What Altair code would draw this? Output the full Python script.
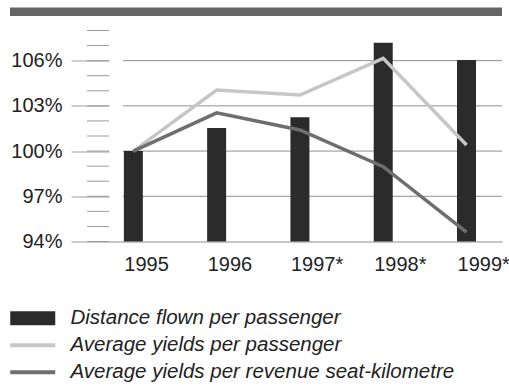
import json
import altair as alt
import pandas as pd

# ---- data ----
years = ["1995", "1996", "1997*", "1998*", "1999*"]
year_index = [0, 1, 2, 3, 4]
distance_flown = [100.0, 101.53, 102.24, 107.18, 106.04]
yield_per_pax = [100.0, 104.05, 103.72, 106.15, 100.4]
yield_per_rsk = [100.0, 102.54, 101.4, 98.96, 94.62]

series_names = [
    "Distance flown per passenger",
    "Average yields per passenger",
    "Average yields per revenue seat-kilometre",
]
series_colors = ["#2b2b2b", "#c6c6c6", "#6e6e6e"]
# legend swatch shapes: a wide block for the bars, thin strokes for the lines
series_shapes = [
    "M-2.25,-0.7H2.25V0.7H-2.25Z",
    "M-2.25,-0.2H2.25V0.2H-2.25Z",
    "M-2.25,-0.2H2.25V0.2H-2.25Z",
]
major_ticks = [94, 97, 100, 103, 106]
minor_ticks = [94, 95, 96, 97, 98, 99, 100, 101, 102, 103, 104, 105, 106, 107, 108]
grid_values = [97, 100, 103, 106]

# ---- tables ----
bars_df = pd.DataFrame({"idx": year_index, "year": years, "value": distance_flown,
                        "series": series_names[0]})
pax_df = pd.DataFrame({"idx": year_index, "year": years, "value": yield_per_pax,
                       "series": series_names[1]})
rsk_df = pd.DataFrame({"idx": year_index, "year": years, "value": yield_per_rsk,
                       "series": series_names[2]})
all_df = pd.concat([bars_df, pax_df, rsk_df])
grid_df = pd.DataFrame({"v": grid_values})
minor_df = pd.DataFrame({"v": minor_ticks})

FONT = "Liberation Sans"
W, H = 393, 211

yscale = alt.Scale(domain=[94, 108], nice=False, zero=False, padding=0)
xscale = alt.Scale(domain=[-0.2924, 4.4261], nice=False, zero=False, padding=0)
color_scale = alt.Scale(domain=series_names, range=series_colors)
shape_scale = alt.Scale(domain=series_names, range=series_shapes)

label_expr = json.dumps(years) + "[datum.value]"

x_axis = alt.Axis(values=year_index, labelExpr=label_expr, labelAlign="left", labelOffset=-9.5,
                  ticks=False, grid=False, domain=True, domainColor="#8e8e8e", domainWidth=1,
                  labelPadding=13, title=None, labelFontSize=20, labelFont=FONT,
                  labelColor="#222222", labelFlush=False, labelOverlap=False)
y_axis = alt.Axis(orient="left", values=major_ticks, tickSize=38, tickColor="#9a9a9a",
                  tickWidth=1, labelPadding=9, labelExpr="datum.value + '%'", domain=False,
                  grid=False, title=None, labelFontSize=20, labelFont=FONT,
                  labelColor="#222222")

X = alt.X("idx:Q", scale=xscale, axis=x_axis)
Y = alt.Y("value:Q", scale=yscale, axis=y_axis)

top_bar = alt.Chart(alt.Data(values=[{"k": 1}])).mark_rect(color="#666666").encode(
    x=alt.value(-99), x2=alt.value(W), y=alt.value(-23), y2=alt.value(-14.5)
)

minor = alt.Chart(minor_df).mark_rule(color="#9a9a9a", strokeWidth=1).encode(
    y=alt.Y("v:Q", scale=yscale, axis=y_axis),
    x=alt.value(-22), x2=alt.value(0),
)

grid = alt.Chart(grid_df).mark_rule(color="#8e8e8e", strokeWidth=1).encode(
    y=alt.Y("v:Q", scale=yscale, axis=y_axis),
    x=alt.value(14), x2=alt.value(W),
)

bars = alt.Chart(bars_df).mark_bar(width=19, color=series_colors[0]).encode(
    x=X, y=Y, y2=alt.datum(94),
)

line_pax = alt.Chart(pax_df).mark_line(
    strokeWidth=3.5, strokeJoin="miter", strokeCap="butt", color=series_colors[1]
).encode(x=X, y=Y)

line_rsk = alt.Chart(rsk_df).mark_line(
    strokeWidth=3.5, strokeJoin="miter", strokeCap="butt", color=series_colors[2]
).encode(x=X, y=Y)

legend_def = alt.Legend(title=None, orient="none", legendX=-86.5, legendY=277.5,
                        direction="vertical", symbolSize=400, symbolOpacity=1,
                        symbolStrokeWidth=0, labelFontSize=20.5, labelFontStyle="italic",
                        labelFont=FONT, labelOffset=27.5, rowPadding=6, padding=0,
                        labelLimit=0, labelColor="#222222")

legend_layer = alt.Chart(all_df).mark_point(filled=True, opacity=0).encode(
    x=X, y=Y,
    color=alt.Color("series:N", scale=color_scale, legend=legend_def),
    shape=alt.Shape("series:N", scale=shape_scale, legend=legend_def),
)

chart = (
    alt.layer(top_bar, minor, grid, bars, line_pax, line_rsk, legend_layer)
    .properties(width=W, height=H,
                autosize=alt.AutoSizeParams(type="none"),
                padding={"left": 109, "top": 30.5, "right": 7, "bottom": 143.5},
                background="#ffffff")
    .configure_view(stroke=None)
)

chart.save("out.html", embed_options={"renderer": "svg", "actions": False})
